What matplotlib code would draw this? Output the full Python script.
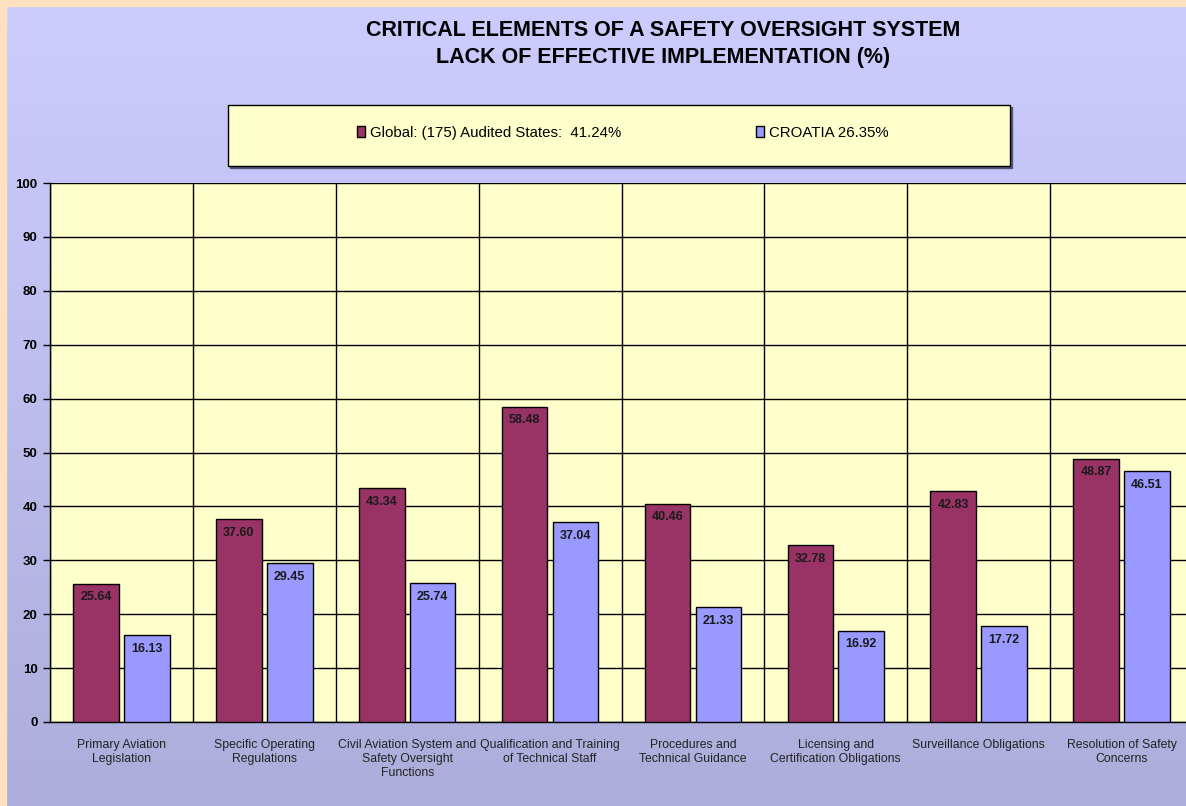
import numpy as np
import matplotlib.pyplot as plt
from matplotlib.patches import Rectangle

plt.rcParams['font.family'] = ['Liberation Sans', 'DejaVu Sans']

# data
categories = [
    "Primary Aviation\nLegislation",
    "Specific Operating\nRegulations",
    "Civil Aviation System and\nSafety Oversight\nFunctions",
    "Qualification and Training\nof Technical Staff",
    "Procedures and\nTechnical Guidance",
    "Licensing and\nCertification Obligations",
    "Surveillance Obligations",
    "Resolution of Safety\nConcerns",
]
global_vals = [25.64, 37.60, 43.34, 58.48, 40.46, 32.78, 42.83, 48.87]
croatia_vals = [16.13, 29.45, 25.74, 37.04, 21.33, 16.92, 17.72, 46.51]
global_label = "Global: (175) Audited States:  41.24%"
croatia_label = "CROATIA 26.35%"

fig = plt.figure(figsize=(11.86, 8.06), dpi=100)

# gradient background
bg = fig.add_axes([0, 0, 1, 1], zorder=-10)
grad = np.linspace(0, 1, 256).reshape(-1, 1)
top = np.array([0.80, 0.80, 1.00])
bot = np.array([0.68, 0.68, 0.86])
img = top + (bot - top) * grad[..., None]
bg.imshow(img, aspect='auto', extent=[0, 1, 0, 1])
bg.set_xlim(0, 1)
bg.set_ylim(0, 1)
bg.axis('off')
# peach frame on the top and left edge
bg.add_patch(Rectangle((0, 0), 0.005, 1, color='#FFE0C0', transform=bg.transAxes))
bg.add_patch(Rectangle((0, 0.993), 1, 0.007, color='#FFE0C0', transform=bg.transAxes))

ax = fig.add_axes([50 / 1186, 84 / 806, 1143 / 1186, 539 / 806])
ax.set_facecolor('#FFFFCC')
x = np.arange(len(categories))
w = 0.32
b1 = ax.bar(x - 0.178, global_vals, w, color='#993366', edgecolor='black', linewidth=1, zorder=3,
            label=global_label)
b2 = ax.bar(x + 0.178, croatia_vals, w, color='#9999FF', edgecolor='black', linewidth=1, zorder=3,
            label=croatia_label)

for bars, vals in [(b1, global_vals), (b2, croatia_vals)]:
    for r, v in zip(bars, vals):
        ax.text(r.get_x() + r.get_width() / 2, v - 1.4, f"{v:.2f}", ha='center', va='top',
                fontsize=9, fontweight='bold', color='#1a1a1a', zorder=4)

ax.set_xlim(-0.5, 7.5)
ax.set_ylim(0, 100)
ax.set_yticks(range(0, 101, 10))
ax.set_yticklabels([str(v) for v in range(0, 101, 10)], fontsize=9.5, fontweight='bold')
ax.set_xticks(x)
ax.set_xticklabels(categories, fontsize=8.8, color='#222222', linespacing=1.25)
ax.tick_params(axis='x', length=0, pad=12)
ax.tick_params(axis='y', length=5, width=1, pad=4)
ax.set_xticks(np.arange(-0.5, 8, 1), minor=True)
ax.tick_params(axis='x', which='minor', length=0)
ax.grid(axis='y', color='black', linewidth=1, zorder=1)
ax.grid(axis='x', which='minor', color='black', linewidth=1, zorder=1)
ax.grid(axis='x', which='major', visible=False)
ax.set_axisbelow(True)
for s in ['top', 'right']:
    ax.spines[s].set_visible(False)
ax.spines['left'].set_linewidth(1)
ax.spines['bottom'].set_linewidth(1)

fig.text(663 / 1186, 1 - 31 / 806, "CRITICAL ELEMENTS OF A SAFETY OVERSIGHT SYSTEM",
         ha='center', va='center', fontsize=15.5, fontweight='bold')
fig.text(663 / 1186, 1 - 57 / 806, "LACK OF EFFECTIVE IMPLEMENTATION (%)",
         ha='center', va='center', fontsize=15.5, fontweight='bold')

# legend box
bx0, by0, bx1, by1 = 228 / 1186, 1 - 166 / 806, 1010 / 1186, 1 - 105 / 806
bg.add_patch(Rectangle((bx0 + 0.002, by0 - 0.003), bx1 - bx0, by1 - by0, color='#555577',
                       transform=bg.transAxes, zorder=2))
bg.add_patch(Rectangle((bx0, by0), bx1 - bx0, by1 - by0, facecolor='#FFFFCC', edgecolor='black',
                       linewidth=1, transform=bg.transAxes, zorder=3))
leg = fig.legend(handles=[b1, b2], labels=[global_label, croatia_label], loc='center',
                 bbox_to_anchor=((bx0 + bx1) / 2 + 0.003, (by0 + by1) / 2 + 0.003), ncol=2,
                 frameon=False, fontsize=10.8, handlelength=0.55, handleheight=0.75,
                 handletextpad=0.3, columnspacing=9)

fig.savefig('out.png', dpi=100)
